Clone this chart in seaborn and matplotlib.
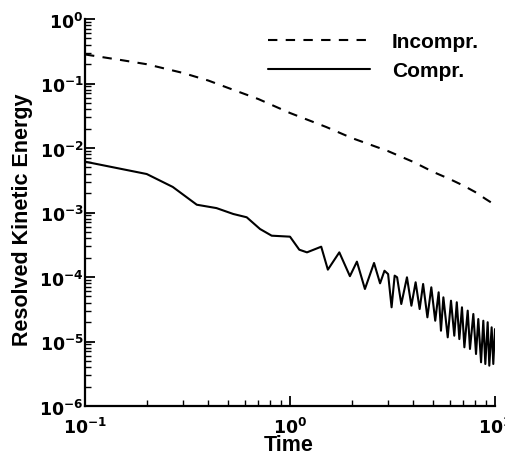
import matplotlib
matplotlib.use("Agg")
import matplotlib.pyplot as plt
import seaborn as sns
import pandas as pd
from matplotlib.ticker import FixedLocator, FixedFormatter, LogLocator, NullFormatter

# ---- data ----
t_incompr = [0.1, 0.15, 0.2, 0.3, 0.4, 0.5, 0.7, 1.0, 1.5, 2.0, 3.0, 4.0, 5.0, 6.0, 7.0, 8.0, 9.0, 10.0]
e_incompr = [0.282, 0.231, 0.199, 0.146, 0.111, 0.0852, 0.0575, 0.0349, 0.0212, 0.0143,
             8.98e-3, 6.07e-3, 4.25e-3, 3.31e-3, 2.62e-3, 2.08e-3, 1.62e-3, 1.31e-3]

t_compr = [0.1, 0.2, 0.268, 0.351, 0.438, 0.529, 0.615, 0.714, 0.814, 1.0,
           1.11, 1.21, 1.42, 1.53, 1.74, 1.96, 2.12, 2.32, 2.57, 2.75,
           2.89, 3.01, 3.13, 3.24, 3.33, 3.49, 3.72, 3.91, 4.10, 4.29,
           4.46, 4.68, 4.89, 5.11, 5.31, 5.45, 5.60, 5.88, 6.10, 6.33,
           6.51, 6.70, 6.90, 7.09, 7.36, 7.55, 7.84, 8.08, 8.29, 8.55,
           8.77, 8.97, 9.21, 9.38, 9.63, 9.81, 10.0]
e_compr = [6.14e-3, 3.95e-3, 2.49e-3, 1.32e-3, 1.17e-3, 9.48e-4, 8.43e-4, 5.55e-4, 4.37e-4, 4.22e-4,
           2.65e-4, 2.41e-4, 2.95e-4, 1.30e-4, 2.41e-4, 1.03e-4, 1.73e-4, 6.52e-5, 1.65e-4, 7.98e-5,
           1.25e-4, 1.11e-4, 3.39e-5, 1.05e-4, 9.9e-5, 3.81e-5, 9.9e-5, 3.59e-5, 8.28e-5, 3.19e-5,
           7.79e-5, 2.37e-5, 6.92e-5, 2.10e-5, 5.79e-5, 1.47e-5, 4.84e-5, 1.16e-5, 4.29e-5, 1.23e-5,
           4.06e-5, 1.09e-5, 3.39e-5, 8.13e-6, 3.01e-5, 7.66e-6, 2.67e-5, 6.40e-6, 2.23e-5, 4.76e-6,
           2.10e-5, 4.48e-6, 1.99e-5, 4.22e-6, 1.66e-5, 4.48e-6, 1.56e-5]

x_ticks = [0.1, 1.0, 10.0]
x_tick_labels = [r"$\mathbf{10^{-1}}$", r"$\mathbf{10^{0}}$", r"$\mathbf{10^{1}}$"]
y_ticks = [1e-6, 1e-5, 1e-4, 1e-3, 1e-2, 1e-1, 1.0]
y_tick_labels = [r"$\mathbf{10^{-6}}$", r"$\mathbf{10^{-5}}$", r"$\mathbf{10^{-4}}$",
                 r"$\mathbf{10^{-3}}$", r"$\mathbf{10^{-2}}$", r"$\mathbf{10^{-1}}$",
                 r"$\mathbf{10^{0}}$"]
series_labels = ["Incompr.", "Compr."]

# ---- style ----
sns.set_style("ticks")
plt.rcParams["font.family"] = ["Liberation Sans", "DejaVu Sans"]
plt.rcParams["font.weight"] = "bold"
plt.rcParams["mathtext.fontset"] = "dejavusans"
for k in ["text.color", "axes.labelcolor", "xtick.color", "ytick.color",
          "axes.edgecolor", "xtick.labelcolor", "ytick.labelcolor"]:
    plt.rcParams[k] = "black"

fig = plt.figure(figsize=(5.06, 4.56), dpi=100)
ax = fig.add_axes([85 / 506, 1 - 407 / 456, 410 / 506, 387 / 456])

df_in = pd.DataFrame({"Time": t_incompr, "E": e_incompr})
df_c = pd.DataFrame({"Time": t_compr, "E": e_compr})
sns.lineplot(data=df_in, x="Time", y="E", ax=ax, color="black", lw=1.5,
             label=series_labels[0], sort=False)
sns.lineplot(data=df_c, x="Time", y="E", ax=ax, color="black", lw=1.5,
             label=series_labels[1], sort=False)
ax.lines[0].set_linestyle((0, (4.5, 4.0)))

ax.set_xscale("log")
ax.set_yscale("log")
ax.set_xlim(0.1, 10)
ax.set_ylim(1e-6, 1)

ax.xaxis.set_major_locator(FixedLocator(x_ticks))
ax.xaxis.set_major_formatter(FixedFormatter(x_tick_labels))
ax.yaxis.set_major_locator(FixedLocator(y_ticks))
ax.yaxis.set_major_formatter(FixedFormatter(y_tick_labels))
ax.xaxis.set_minor_locator(LogLocator(base=10, subs=range(2, 10), numticks=20))
ax.yaxis.set_minor_locator(LogLocator(base=10, subs=range(2, 10), numticks=20))
ax.xaxis.set_minor_formatter(NullFormatter())
ax.yaxis.set_minor_formatter(NullFormatter())

ax.tick_params(which="major", direction="in", length=7, width=1.3, labelsize=12.5,
               colors="black")
ax.tick_params(axis="y", which="major", pad=1)
ax.tick_params(axis="x", which="major", pad=7)
ax.tick_params(which="minor", direction="in", length=4, width=1.0, colors="black")
ax.tick_params(top=False, right=False, which="both")

for s in ["top", "right"]:
    ax.spines[s].set_visible(False)
for s in ["left", "bottom"]:
    ax.spines[s].set_linewidth(1.6)
    ax.spines[s].set_color("black")

ax.set_xlabel("Time", fontsize=15.5, fontweight="bold", color="black")
ax.set_ylabel("Resolved Kinetic Energy", fontsize=15.5, fontweight="bold", color="black")
ax.xaxis.set_label_coords(0.497, -(435 - 407) / 387)
ax.yaxis.set_label_coords(-(85 - 33) / 410, (407 - 220) / 387)

leg = ax.legend(loc="upper left", bbox_to_anchor=(268 / 506, 1 - 33 / 456),
                bbox_transform=fig.transFigure, frameon=False, fontsize=15,
                handlelength=4.9, handletextpad=1.05, borderpad=0, borderaxespad=0,
                labelspacing=0.5)
for txt in leg.get_texts():
    txt.set_fontweight("bold")
    txt.set_color("black")
for h in leg.get_lines():
    h.set_linewidth(1.5)

fig.savefig("out.png", dpi=100)
